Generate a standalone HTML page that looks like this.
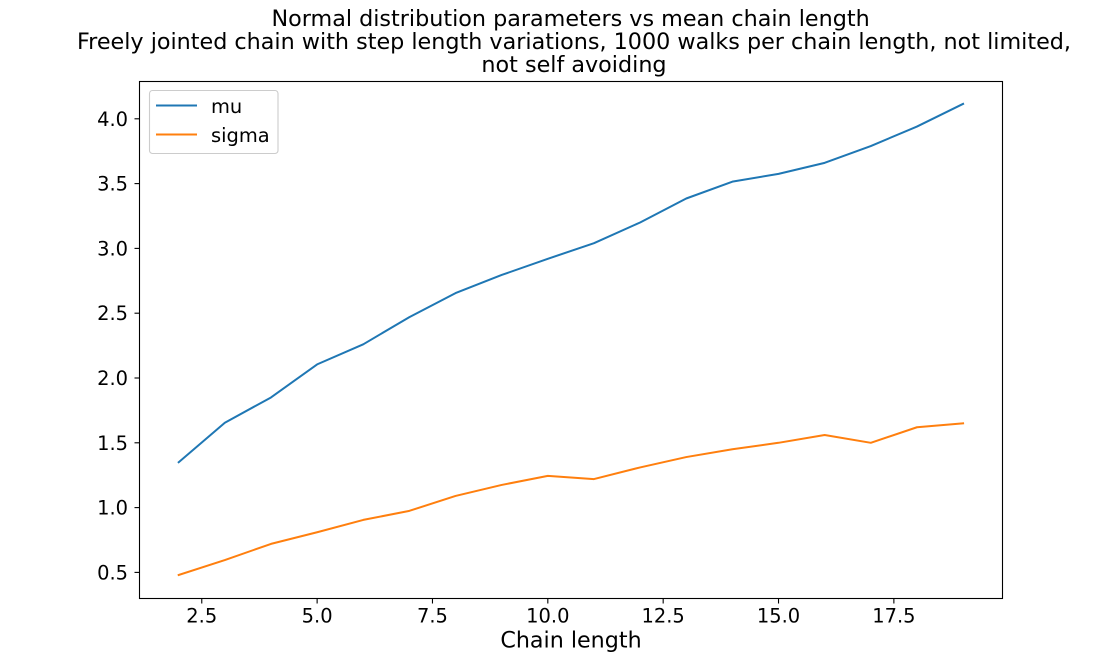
<!DOCTYPE html>
<html>
<head>
<meta charset="utf-8">
<style>
html,body{margin:0;padding:0;background:#fff;}
svg{display:block;}
text{font-family:"DejaVu Sans",sans-serif;fill:#000;}
</style>
</head>
<body>
<svg id="chart" width="1113" height="672" viewBox="0 0 1113 672" xmlns="http://www.w3.org/2000/svg">
<rect x="0" y="0" width="1113" height="672" fill="#fff"/>
<g font-size="22.28" text-anchor="middle">
<text x="570.6" y="26">Normal distribution parameters vs mean chain length</text>
<text x="574" y="49.2">Freely jointed chain with step length variations, 1000 walks per chain length, not limited,</text>
<text x="574" y="72">not self avoiding</text>
</g>
<g id="plot"></g>
<rect x="139.5" y="81.5" width="863" height="517" fill="none" stroke="#000" stroke-width="1.1"/>
<g id="ticks"></g>
<text x="571" y="647.5" font-size="22.22" text-anchor="middle">Chain length</text>
<g>
<rect x="149.5" y="90.5" width="128.5" height="63" rx="3" fill="#fff" fill-opacity="0.8" stroke="#ccc" stroke-width="1.1"/>
<line x1="156" y1="105.5" x2="197" y2="105.5" stroke="#1f77b4" stroke-width="2"/>
<text x="211" y="113" font-size="19.44">mu</text>
<line x1="156" y1="134.5" x2="197" y2="134.5" stroke="#ff7f0e" stroke-width="2"/>
<text x="211" y="142" font-size="19.44">sigma</text>
</g>
</svg>
<script>
const chainLengths = [2,3,4,5,6,7,8,9,10,11,12,13,14,15,16,17,18,19];
const muValues = [1.35,1.655,1.85,2.105,2.26,2.47,2.655,2.795,2.92,3.04,3.2,3.385,3.515,3.575,3.66,3.79,3.94,4.115];
const sigmaValues = [0.48,0.595,0.72,0.81,0.905,0.975,1.09,1.175,1.245,1.22,1.31,1.39,1.45,1.5,1.56,1.5,1.62,1.65];
const xTickLabels = ["2.5","5.0","7.5","10.0","12.5","15.0","17.5"];
const yTickLabels = ["0.5","1.0","1.5","2.0","2.5","3.0","3.5","4.0"];

const SVG_NS = 'http://www.w3.org/2000/svg';
function xScale(v){ return 178.7 + (v - 2) * 46.14; }
function yScale(v){ return 572.4 - (v - 0.5) * 129.6; }

const plot = document.getElementById('plot');
const ticks = document.getElementById('ticks');

function drawSeries(values, color, name){
  const line = document.createElementNS(SVG_NS, 'polyline');
  
  
  line.setAttribute('points', values.map(function(v, i){
    return xScale(chainLengths[i]).toFixed(2) + ',' + yScale(v).toFixed(2);
  }).join(' '));
  line.setAttribute('fill', 'none');
  line.setAttribute('stroke', color);
  line.setAttribute('stroke-width', '2');
  line.setAttribute('stroke-linecap', 'square');
  line.setAttribute('stroke-linejoin', 'round');
  plot.appendChild(line);
}
drawSeries(muValues, '#1f77b4', 'mu-line');
drawSeries(sigmaValues, '#ff7f0e', 'sigma-line');

xTickLabels.forEach(function(label){
  const x = xScale(parseFloat(label));
  const mark = document.createElementNS(SVG_NS, 'line');
  
  
  mark.setAttribute('x1', x);
  mark.setAttribute('x2', x);
  mark.setAttribute('y1', 598.5);
  mark.setAttribute('y2', 603.5);
  mark.setAttribute('stroke', '#000');
  mark.setAttribute('stroke-width', '1.1');
  ticks.appendChild(mark);
  const text = document.createElementNS(SVG_NS, 'text');
  
  
  text.setAttribute('x', x);
  text.setAttribute('y', 622.5);
  text.setAttribute('font-size', '19.44');
  text.setAttribute('text-anchor', 'middle');
  text.textContent = label;
  ticks.appendChild(text);
});

yTickLabels.forEach(function(label){
  const y = yScale(parseFloat(label));
  const mark = document.createElementNS(SVG_NS, 'line');
  
  
  mark.setAttribute('x1', 134.5);
  mark.setAttribute('x2', 139.5);
  mark.setAttribute('y1', y);
  mark.setAttribute('y2', y);
  mark.setAttribute('stroke', '#000');
  mark.setAttribute('stroke-width', '1.1');
  ticks.appendChild(mark);
  const text = document.createElementNS(SVG_NS, 'text');
  
  
  text.setAttribute('x', 128);
  text.setAttribute('y', y + 7);
  text.setAttribute('font-size', '19.44');
  text.setAttribute('text-anchor', 'end');
  text.textContent = label;
  ticks.appendChild(text);
});
</script>
</body>
</html>
